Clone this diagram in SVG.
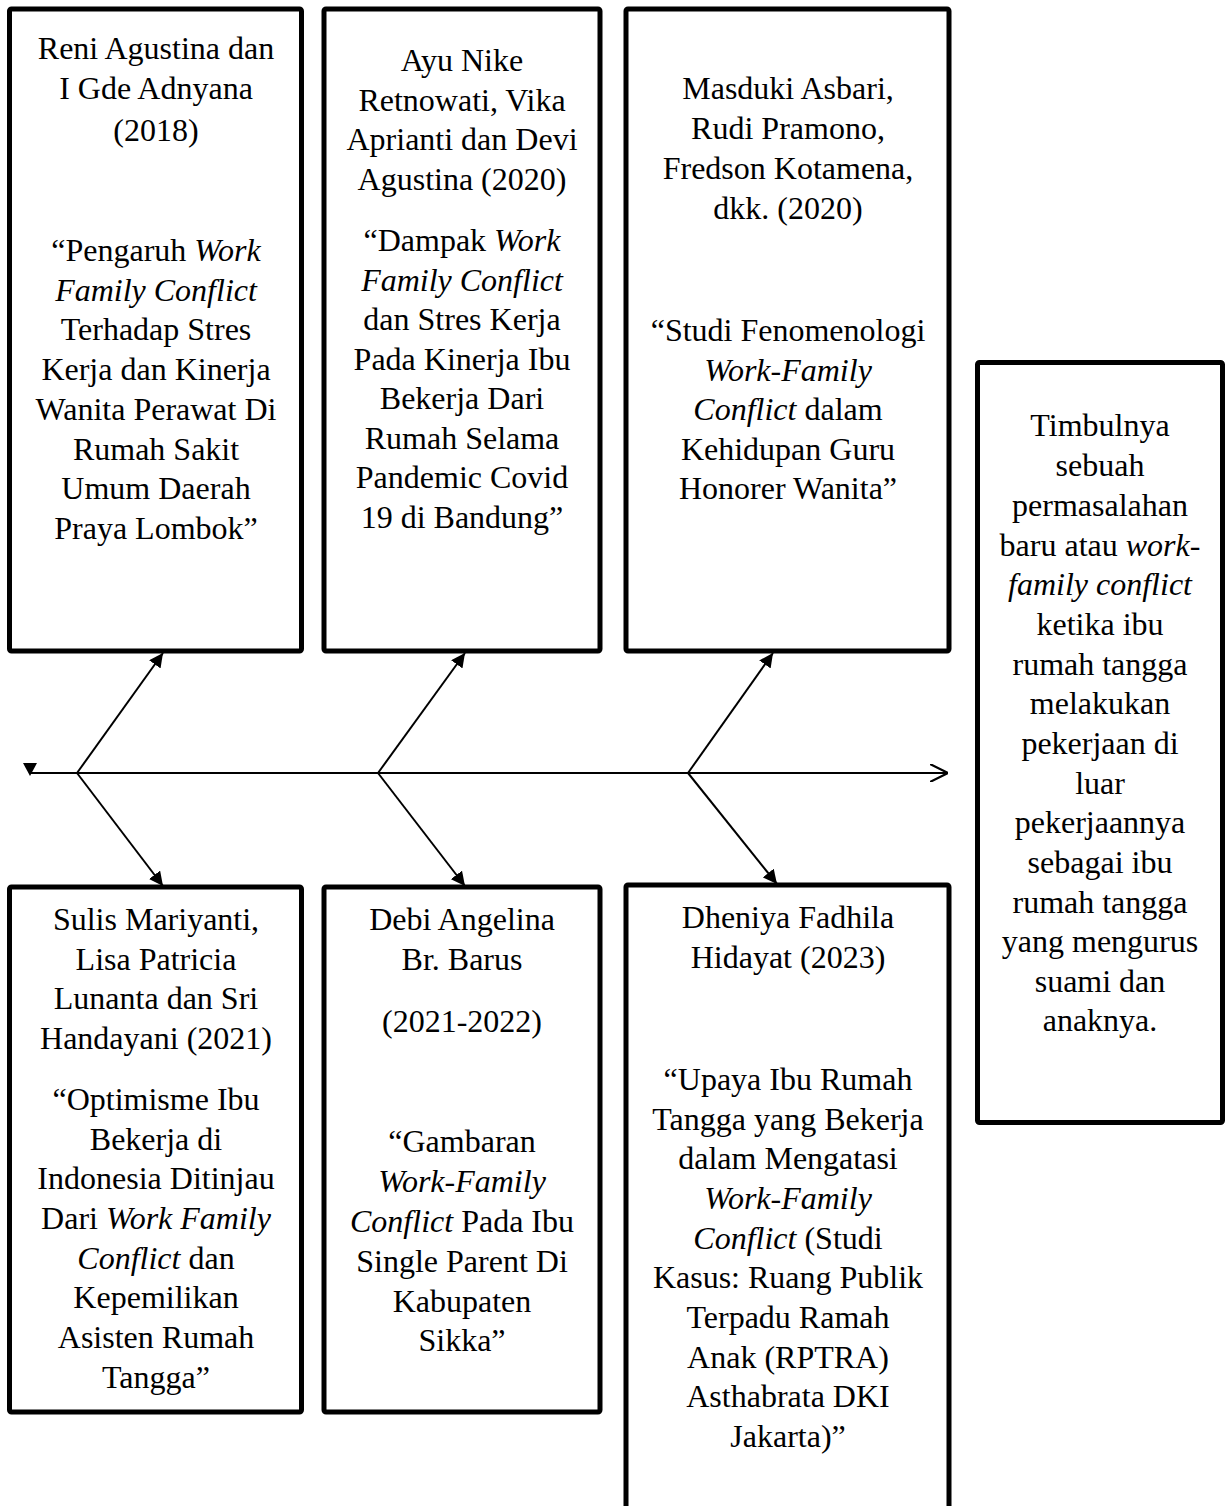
<svg xmlns="http://www.w3.org/2000/svg" width="1232" height="1506" viewBox="0 0 1232 1506">
<style>
.box{fill:#fff;stroke:#000;stroke-width:5}
.t{font-family:"Liberation Serif","Times New Roman",serif;font-size:32px;fill:#000;text-anchor:middle}
.i{font-style:italic}
.c{stroke:#000;stroke-width:2;fill:none}
</style>
<defs>
<marker id="ah" viewBox="0 0 10 10" refX="10" refY="5" markerWidth="14" markerHeight="14" markerUnits="userSpaceOnUse" orient="auto"><path d="M0,0 L10,5 L0,10 Z" fill="#000"/></marker>
<marker id="open" viewBox="0 0 10 10" refX="10" refY="5" markerWidth="18" markerHeight="18" markerUnits="userSpaceOnUse" orient="auto"><path d="M0,0 L10,5 L0,10" fill="none" stroke="#000" stroke-width="1.2"/></marker>
</defs>
<rect width="1232" height="1506" fill="#fff"/>
<g id="connectors">
<line class="c" x1="30" y1="773" x2="948" y2="773" marker-end="url(#open)"/>
<path d="M23,763 L37,763 L30,776 Z" fill="#000"/>
<line class="c" x1="77" y1="773" x2="163" y2="653" marker-end="url(#ah)"/>
<line class="c" x1="77" y1="773" x2="163" y2="886" marker-end="url(#ah)"/>
<line class="c" x1="378" y1="773" x2="465" y2="653" marker-end="url(#ah)"/>
<line class="c" x1="378" y1="773" x2="465" y2="886" marker-end="url(#ah)"/>
<line class="c" x1="688" y1="773" x2="773" y2="653" marker-end="url(#ah)"/>
<line class="c" x1="688" y1="773" x2="777" y2="884" marker-end="url(#ah)"/>
</g>
<g id="node1">
<rect class="box" x="9.5" y="9" width="292" height="642" rx="2"/>
<text class="t" x="156"><tspan x="156" y="59">Reni Agustina dan</tspan><tspan x="156" y="99">I Gde Adnyana</tspan><tspan x="156" y="141">(2018)</tspan><tspan x="156" y="261">“Pengaruh <tspan class="i">Work</tspan></tspan><tspan x="156" y="301" class="i">Family Conflict</tspan><tspan x="156" y="340">Terhadap Stres</tspan><tspan x="156" y="380">Kerja dan Kinerja</tspan><tspan x="156" y="420">Wanita Perawat Di</tspan><tspan x="156" y="460">Rumah Sakit</tspan><tspan x="156" y="499">Umum Daerah</tspan><tspan x="156" y="539">Praya Lombok”</tspan></text>
</g>
<g id="node2">
<rect class="box" x="324" y="9" width="276" height="642" rx="2"/>
<text class="t"><tspan x="462" y="71">Ayu Nike</tspan><tspan x="462" y="111">Retnowati, Vika</tspan><tspan x="462" y="150">Aprianti dan Devi</tspan><tspan x="462" y="190">Agustina (2020)</tspan><tspan x="462" y="251">“Dampak <tspan class="i">Work</tspan></tspan><tspan x="462" y="291" class="i">Family Conflict</tspan><tspan x="462" y="330">dan Stres Kerja</tspan><tspan x="462" y="370">Pada Kinerja Ibu</tspan><tspan x="462" y="409">Bekerja Dari</tspan><tspan x="462" y="449">Rumah Selama</tspan><tspan x="462" y="488">Pandemic Covid</tspan><tspan x="462" y="528">19 di Bandung”</tspan></text>
</g>
<g id="node3">
<rect class="box" x="626" y="9" width="323" height="642" rx="2"/>
<text class="t"><tspan x="788" y="99">Masduki Asbari,</tspan><tspan x="788" y="139">Rudi Pramono,</tspan><tspan x="788" y="179">Fredson Kotamena,</tspan><tspan x="788" y="219">dkk. (2020)</tspan><tspan x="788" y="341">“Studi Fenomenologi</tspan><tspan x="788" y="381" class="i">Work-Family</tspan><tspan x="788" y="420"><tspan class="i">Conflict</tspan> dalam</tspan><tspan x="788" y="460">Kehidupan Guru</tspan><tspan x="788" y="499">Honorer Wanita”</tspan></text>
</g>
<g id="node4">
<rect class="box" x="9.5" y="887" width="292" height="525" rx="2"/>
<text class="t"><tspan x="156" y="930">Sulis Mariyanti,</tspan><tspan x="156" y="970">Lisa Patricia</tspan><tspan x="156" y="1009">Lunanta dan Sri</tspan><tspan x="156" y="1049">Handayani (2021)</tspan><tspan x="156" y="1110">“Optimisme Ibu</tspan><tspan x="156" y="1150">Bekerja di</tspan><tspan x="156" y="1189">Indonesia Ditinjau</tspan><tspan x="156" y="1229">Dari <tspan class="i">Work Family</tspan></tspan><tspan x="156" y="1269"><tspan class="i">Conflict</tspan> dan</tspan><tspan x="156" y="1308">Kepemilikan</tspan><tspan x="156" y="1348">Asisten Rumah</tspan><tspan x="156" y="1388">Tangga”</tspan></text>
</g>
<g id="node5">
<rect class="box" x="324" y="887" width="276" height="525" rx="2"/>
<text class="t"><tspan x="462" y="930">Debi Angelina</tspan><tspan x="462" y="970">Br. Barus</tspan><tspan x="462" y="1032">(2021-2022)</tspan><tspan x="462" y="1152">“Gambaran</tspan><tspan x="462" y="1192" class="i">Work-Family</tspan><tspan x="462" y="1232"><tspan class="i">Conflict</tspan> Pada Ibu</tspan><tspan x="462" y="1272">Single Parent Di</tspan><tspan x="462" y="1312">Kabupaten</tspan><tspan x="462" y="1351">Sikka”</tspan></text>
</g>
<g id="node6">
<rect class="box" x="626" y="885" width="323" height="640" rx="2"/>
<text class="t"><tspan x="788" y="928">Dheniya Fadhila</tspan><tspan x="788" y="968">Hidayat (2023)</tspan><tspan x="788" y="1090">“Upaya Ibu Rumah</tspan><tspan x="788" y="1130">Tangga yang Bekerja</tspan><tspan x="788" y="1169">dalam Mengatasi</tspan><tspan x="788" y="1209" class="i">Work-Family</tspan><tspan x="788" y="1249"><tspan class="i">Conflict</tspan> (Studi</tspan><tspan x="788" y="1288">Kasus: Ruang Publik</tspan><tspan x="788" y="1328">Terpadu Ramah</tspan><tspan x="788" y="1368">Anak (RPTRA)</tspan><tspan x="788" y="1407">Asthabrata DKI</tspan><tspan x="788" y="1447">Jakarta)”</tspan></text>
</g>
<g id="node7">
<rect class="box" x="977.5" y="362.5" width="245" height="760" rx="2"/>
<text class="t"><tspan x="1100" y="436">Timbulnya</tspan><tspan x="1100" y="476">sebuah</tspan><tspan x="1100" y="516">permasalahan</tspan><tspan x="1100" y="556">baru atau <tspan class="i">work-</tspan></tspan><tspan x="1100" y="595" class="i">family conflict</tspan><tspan x="1100" y="635">ketika ibu</tspan><tspan x="1100" y="675">rumah tangga</tspan><tspan x="1100" y="714">melakukan</tspan><tspan x="1100" y="754">pekerjaan di</tspan><tspan x="1100" y="794">luar</tspan><tspan x="1100" y="833">pekerjaannya</tspan><tspan x="1100" y="873">sebagai ibu</tspan><tspan x="1100" y="913">rumah tangga</tspan><tspan x="1100" y="952">yang mengurus</tspan><tspan x="1100" y="992">suami dan</tspan><tspan x="1100" y="1031">anaknya.</tspan></text>
</g>
</svg>
